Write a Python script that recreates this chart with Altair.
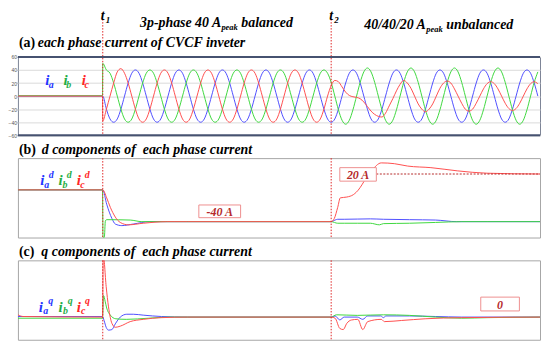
import altair as alt
import pandas as pd

# ---------------- data ----------------
T1 = 0.0325         # load switched on
T2 = 0.12           # phase c reduced to 20 A
STEP = 1 / 720      # spacing of the panel (a) samples (12 per 60 Hz cycle), starting at T1

PRE_T = [0.0, 0.0324]
PRE_IA = [0.0, 0.0]
PRE_IB = [0.6, 0.6]
PRE_IC = [0.0, 0.0]

IA = [
    0, -20, -35, -40, -35, -20, 0, 20, 35, 40, 35, 20,
    0, -20, -35, -40, -35, -20, 0, 20, 35, 40, 35, 20,
    0, -20, -35, -40, -35, -20, 0, 20, 35, 40, 35, 20,
    0, -20, -35, -40, -35, -20, 0, 20, 35, 40, 35, 20,
    0, -20, -35, -40, -35, -20, 0, 20, 35, 40, 35, 20,
    0, -20, -35, -40, -35, -20, 0, 20, 35, 40, 35, 20,
    0, -20, -35, -40, -35, -20, 0, 20, 35, 40, 35, 20,
    0, -20, -35, -40, -35, -20, 0, 20, 35, 40, 35, 20,
    0, -20, -35, -40, -35, -20, 0, 20, 35, 40, 35, 20,
    0, -20, -35, -40, -35, -20, 0, 20, 35, 40, 35, 20,
    0]
IB = [
    50, 40, 35, 20, 0, -20, -35, -40, -35, -20, 0, 20,
    35, 40, 35, 20, 0, -20, -35, -40, -35, -20, 0, 20,
    35, 40, 35, 20, 0, -20, -35, -40, -35, -20, 0, 20,
    35, 40, 35, 20, 0, -20, -35, -40, -35, -20, 0, 20,
    35, 40, 35, 20, 0, -20, -35, -40, -35, -20, 0, 20,
    35, 40, 35, 21, 0, -21, -37, -43, -37, -21, 0, 21,
    37, 43, 37, 21, 0, -21, -37, -43, -37, -21, 0, 21,
    37, 43, 37, 21, 0, -21, -37, -43, -37, -21, 0, 21,
    37, 43, 37, 21, 0, -21, -37, -43, -37, -21, 0, 21,
    37, 43, 37, 21, 0, -21, -37, -43, -37, -21, 0, 21,
    37]
IC = [
    -38, -20, 0, 20, 37, 42, 35, 20, 0, -20, -35, -40,
    -35, -20, 0, 20, 35, 40, 35, 20, 0, -20, -35, -40,
    -35, -20, 0, 20, 35, 40, 35, 20, 0, -20, -35, -40,
    -35, -20, 0, 20, 35, 40, 35, 20, 0, -20, -35, -40,
    -35, -20, 0, 20, 35, 40, 35, 20, 0, -20, -35, -40,
    -35, -20, 0, 16, 24, 22, 14, 6, 1, -1, -2, -4,
    -9, -16, -23, -28, -31, -32, -26, -15, -4, 8, 18, 24,
    20, 12, 0, -12, -20, -24, -20, -12, 0, 12, 20, 23,
    20, 11, 0, -11, -20, -23, -20, -11, 0, 11, 19, 22,
    19, 11, 0, -11, -19, -22, -19, -11, 0, 11, 19, 22,
    19]

# d components
DA_T = [0, 0.0324, 0.0325, 0.034, 0.036, 0.0373, 0.0398, 0.0442, 0.0505, 0.06, 0.12,
        0.1215, 0.1225, 0.125, 0.135, 0.14, 0.15, 0.16, 0.168, 0.18, 0.2]
DA_V = [0, 0, 0, -18, -36, -43, -45, -43, -40, -40, -40,
        -38, -37, -37, -36.5, -37, -37.5, -38, -40, -40, -40]
DB_T = [0, 0.0324, 0.0326, 0.0331, 0.0335, 0.034, 0.043, 0.0475, 0.06, 0.12,
        0.1225, 0.125, 0.13, 0.135, 0.1385, 0.14, 0.15, 0.16, 0.17, 0.2]
DB_V = [0, 0, -60, -60, -39, -37.5, -38, -40, -40, -40,
        -42, -42, -42, -42, -44, -42.5, -42, -41, -40, -40]
DC_T = [0, 0.0324, 0.0325, 0.034, 0.0354, 0.0392, 0.0423, 0.048, 0.057, 0.065, 0.12,
        0.1212, 0.1225, 0.1235, 0.126, 0.1285, 0.1296, 0.1354, 0.1392, 0.1442, 0.1493,
        0.1582, 0.1683, 0.1797, 0.2]
DC_V = [0, 0, 0, -10, -22, -41, -44, -42, -40, -40, -40,
        -36, -22, -10, -9, -6, -3, 24, 34, 33, 30,
        28, 24, 21, 20]

# q components
QA_T = [0, 0.0324, 0.033, 0.0338, 0.0347, 0.036, 0.0373, 0.0392, 0.0417, 0.0442, 0.048,
        0.055, 0.065, 0.12, 0.1215, 0.1233, 0.125, 0.13, 0.1321, 0.134, 0.139, 0.14, 0.141,
        0.15, 0.16, 0.17, 0.2]
QA_V = [0.5, 0.5, -3, -9, -11.5, -11, -6, 0, 2.5, 2.5, 1.7,
        0.5, 0, 0, 1, -2.5, 0, 0, -2, 1, 1, -0.5, 1,
        1, 0.5, 0, 0]
QB_T = [0, 0.0324, 0.0328, 0.0334, 0.034, 0.0353, 0.0375, 0.0415, 0.05, 0.058, 0.12,
        0.122, 0.13, 0.14, 0.15, 0.16, 0.17, 0.18, 0.2]
QB_V = [-1, -1, 19, 14, 8, 2, -1.5, -2, -1, 0, 0,
        2, 1.5, 2, 1.5, 0, -1, -0.5, 0]
QC_T = [0, 0.002, 0.0324, 0.0327, 0.0338, 0.0347, 0.036, 0.0373, 0.0392, 0.043, 0.048,
        0.055, 0.065, 0.12, 0.1215, 0.1233, 0.1246, 0.126, 0.1277, 0.1302, 0.1321, 0.134,
        0.1392, 0.1404, 0.147, 0.156, 0.17, 0.2]
QC_V = [2, 0.5, 0, 55, 27, 9, -5.5, -9, -8, -4, -2,
        -0.5, 0, 0, -1, -10, -11, -5.5, -2.6, -2, -11, -4,
        -2, -4, -3, -1.5, -0.5, 0]

# annotation boxes (time range, value range, text)
NOTE_B_T0 = [0.0693, 0.1233]
NOTE_B_T1 = [0.0853, 0.1373]
NOTE_B_LO = [-35, 11]
NOTE_B_HI = [-19, 28]
NOTE_B_TXT = ["-40 A", "20 A"]
NOTE_C_T0 = [0.1773]
NOTE_C_T1 = [0.1921]
NOTE_C_LO = [5.4]
NOTE_C_HI = [17.6]
NOTE_C_TXT = ["0"]
REF20_T = [0.1373]
REF20_T2 = [0.2]
REF20_V = [20]

X_TICKS = [0, 0.02, 0.04, 0.06, 0.08, 0.10, 0.12, 0.14, 0.16, 0.18, 0.2]

# ---------------- styling ----------------
W = 526
HA, HB, HC = 79, 80, 80
LINE_COLORS = ["#5050ff", "#3fd83f", "#ff5050"]
LBL_COLORS = ["#1f35ff", "#1fae45", "#ff2626"]
NOTE_RED = "#b52a2a"
BOX_STROKE = "#ee8f8f"
DOT_RED = "#e02626"
SERIF = "'Liberation Serif', 'Times New Roman', 'DejaVu Serif', serif"
SANS = "Liberation Sans"


def frame(pairs):
    rows = []
    for s, ts, vs in pairs:
        for t, v in zip(ts, vs):
            rows.append({"t": t, "v": v, "s": s})
    return pd.DataFrame(rows)


ta = PRE_T + [T1 + k * STEP for k in range(len(IA))]
df_a = frame([("a", ta, PRE_IA + IA), ("b", ta, PRE_IB + IB), ("c", ta, PRE_IC + IC)])
df_b = frame([("a", DA_T, DA_V), ("b", DB_T, DB_V), ("c", DC_T, DC_V)])
df_c = frame([("a", QA_T, QA_V), ("b", QB_T, QB_V), ("c", QC_T, QC_V)])

xscale = alt.Scale(domain=[0, 0.2], nice=False, zero=False)
xaxis = alt.Axis(values=X_TICKS, title=None, grid=True, gridColor="#dadada", gridWidth=1,
                 domain=False, ticks=True, tickSize=2, tickColor="#999",
                 labelFont=SANS, labelFontSize=5.5, labelColor="#555", labelPadding=1,
                 labelExpr="datum.value == 0 ? '0' : (datum.value > 0.199 ? '0.2' : format(datum.value, '.2f'))")


def yaxis(values, label_every):
    return alt.Axis(values=values, title=None, grid=True, gridColor="#dadada", gridWidth=1,
                    domain=False, ticks=True, tickSize=1, tickColor="#999", minExtent=0,
                    labelFont=SANS, labelFontSize=5, labelColor="#555", labelPadding=0.5,
                    labelExpr=f"datum.value % {label_every} == 0 ? datum.label : ''")


ONE = pd.DataFrame({"k": [0]})


def txt(s, y, size, color="black", italic=True, x=None, tx=None, align="left", dx=0):
    enc = {"y": alt.value(y)}
    enc["x"] = alt.datum(tx) if tx is not None else alt.value(x)
    return alt.Chart(ONE).mark_text(
        text=s, font=SERIF, fontSize=size, fontWeight="bold",
        fontStyle="italic" if italic else "normal", color=color, align=align,
        baseline="alphabetic", dx=dx).encode(**enc)


def lines(df, ydom, yvals, every):
    return alt.Chart(df).mark_line(interpolate="monotone", strokeWidth=1, clip=True).encode(
        x=alt.X("t:Q", scale=xscale, axis=xaxis),
        y=alt.Y("v:Q", scale=alt.Scale(domain=ydom, nice=False, zero=False), axis=yaxis(yvals, every)),
        color=alt.Color("s:N", scale=alt.Scale(domain=["a", "b", "c"], range=LINE_COLORS), legend=None),
    )


def vrules(y0, h):
    return alt.Chart(pd.DataFrame({"t": [T1, T2]})).mark_rule(
        color=DOT_RED, strokeDash=[1.5, 1.5], strokeWidth=1).encode(
        x=alt.X("t:Q", scale=xscale, axis=None), y=alt.value(y0), y2=alt.value(h))


def labels(sub_or_sup, y_i, y_sub, y_sup, xs):
    out = []
    for (xi, xsub, xsup), letter, col in zip(xs, ["a", "b", "c"], LBL_COLORS):
        out.append(txt("i", y_i, 15, col, x=xi))
        out.append(txt(letter, y_sub, 10, col, x=xsub))
        if sub_or_sup:
            out.append(txt(sub_or_sup, y_sup, 10, col, x=xsup))
    return out


def boxes(t0, t1, lo, hi, texts):
    d = pd.DataFrame({"t0": t0, "t1": t1, "lo": lo, "hi": hi, "txt": texts})
    d["tm"] = (d["t0"] + d["t1"]) / 2
    d["vm"] = (d["lo"] + d["hi"]) / 2
    rect = alt.Chart(d).mark_rect(fill="white", stroke=BOX_STROKE, strokeWidth=1).encode(
        x=alt.X("t0:Q", scale=xscale, axis=None), x2="t1:Q",
        y=alt.Y("lo:Q", axis=None), y2="hi:Q")
    tx = alt.Chart(d).mark_text(font=SERIF, fontSize=12, fontWeight="bold", fontStyle="italic",
                                color=NOTE_RED, baseline="middle", dy=1).encode(
        x=alt.X("tm:Q", scale=xscale, axis=None), y=alt.Y("vm:Q", axis=None), text="txt:N")
    return [rect, tx]


# ---------------- panel (a) ----------------
frame_a = alt.Chart(ONE).mark_rule(color="#465270", strokeWidth=2).encode(
    x=alt.value(0), x2=alt.value(W), y=alt.value(0))
frame_a2 = alt.Chart(ONE).mark_rule(color="#465270", strokeWidth=2).encode(
    x=alt.value(0), x2=alt.value(W), y=alt.value(HA))

layers_a = [
    lines(df_a, [-60, 60], [-60, -40, -20, 0, 20, 40, 60], 20),
    vrules(-38, HA),
    frame_a, frame_a2,
    txt("(a)", -10, 14, italic=False, x=1),
    txt("each phase current of CVCF inveter", -10, 14, x=20),
    txt("t", -37, 14, tx=T1, align="center"),
    txt("1", -34, 9, tx=T1, dx=3),
    txt("t", -37, 14, tx=T2, align="center"),
    txt("2", -34, 9, tx=T2, dx=3),
    txt("3p-phase 40 A", -30, 14, x=123),
    txt("peak", -27, 8.5, x=205),
    txt("balanced", -30, 14, x=225),
    txt("40/40/20 A", -28, 14, x=349),
    txt("peak", -25, 8.5, x=411.5),
    txt("unbalanced", -28, 14, x=431.5),
] + labels(None, 28, 31, 0, [(27.6, 31, 0), (46, 48.6, 0), (64.3, 67, 0)])

panel_a = alt.layer(*layers_a).properties(
    width=W, height=HA, view=alt.ViewBackground(stroke="#7d8496", strokeWidth=1))

# ---------------- panel (b) ----------------
ref20 = alt.Chart(pd.DataFrame({"t": REF20_T, "t2": REF20_T2, "v": REF20_V})).mark_rule(
    color=NOTE_RED, strokeDash=[2, 1.5], strokeWidth=1).encode(
    x=alt.X("t:Q", scale=xscale, axis=None), x2="t2:Q", y=alt.Y("v:Q", axis=None))

layers_b = [
    lines(df_b, [-60, 40], list(range(-60, 41, 10)), 20),
    vrules(0, HB),
    ref20,
    *boxes(NOTE_B_T0, NOTE_B_T1, NOTE_B_LO, NOTE_B_HI, NOTE_B_TXT),
    txt("(b)", -4, 14, italic=False, x=1),
    txt("d components of\u00a0 each phase current", -4, 14, x=24),
] + labels("d", 27, 30, 20, [(22.6, 26.6, 31), (41, 44.8, 49.3), (59.3, 62.8, 67.3)])

panel_b = alt.layer(*layers_b).properties(
    width=W, height=HB, view=alt.ViewBackground(stroke="#a6a6a6", strokeWidth=1))

# ---------------- panel (c) ----------------
layers_c = [
    lines(df_c, [-20, 50], list(range(-20, 51, 10)), 10),
    vrules(0, HC),
    *boxes(NOTE_C_T0, NOTE_C_T1, NOTE_C_LO, NOTE_C_HI, NOTE_C_TXT),
    txt("(c)", -4.5, 14, italic=False, x=1),
    txt("q components of\u00a0 each phase current", -4.5, 14, x=23.6),
] + labels("q", 51.7, 54.5, 43.5, [(21, 25.5, 30.5), (41, 45.5, 50.3), (59.3, 63.6, 67.6)])

panel_c = alt.layer(*layers_c).properties(
    width=W, height=HC, view=alt.ViewBackground(stroke="#a6a6a6", strokeWidth=1))

chart = alt.vconcat(panel_a, panel_b, panel_c, spacing=23, bounds="flush").properties(
    padding={"top": -1, "left": -1, "right": 0, "bottom": 0},
    background="white",
)

chart.save("out.html", embed_options={"renderer": "svg", "actions": False})
